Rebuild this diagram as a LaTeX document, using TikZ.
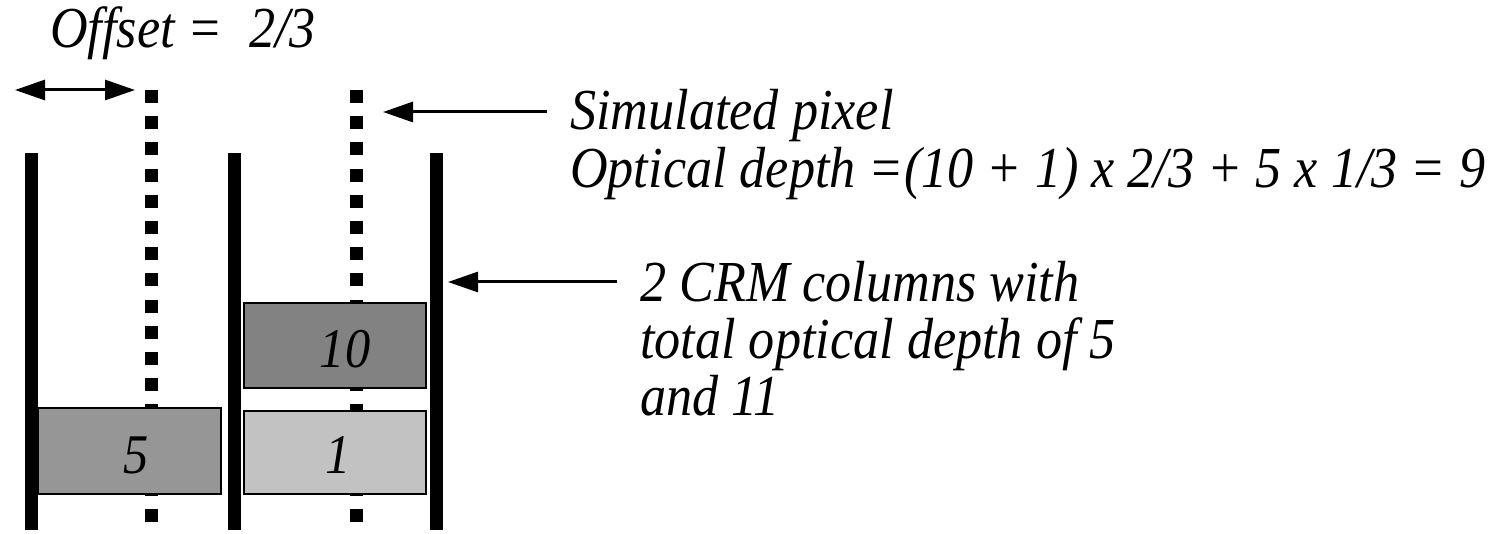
\documentclass[tikz,border=0pt]{standalone}
\usepackage{fontspec}
\setmainfont{Liberation Serif}[FakeStretch=0.9]
\usetikzlibrary{arrows.meta}
\definecolor{boxA}{HTML}{969696}
\definecolor{boxB}{HTML}{828282}
\definecolor{boxC}{HTML}{C2C2C2}
\tikzset{
  wall/.style={line width=13pt},
  pix/.style={line width=13pt, dash pattern=on 13pt off 13.2pt},
  layer/.style={draw=black, line width=2pt, inner sep=0pt, anchor=north west},
  lbl/.style={font=\fontsize{58}{58}\selectfont\itshape, inner sep=0pt, anchor=base west},
  num/.style={font=\fontsize{56}{56}\selectfont\itshape, inner sep=0pt, anchor=base},
  pointer/.style={line width=3pt, -{Triangle[length=30pt,width=20pt]}},
  both/.style={line width=3pt, {Triangle[length=30pt,width=20pt]}-{Triangle[length=30pt,width=20pt]}}
}
\begin{document}
\begin{tikzpicture}[x=1pt,y=-1pt]
\useasboundingbox (0,0) rectangle (1509,534);
% walls
\coordinate (w1t) at (31,153); \coordinate (w1b) at (31,530);
\coordinate (w2t) at (234,153); \coordinate (w2b) at (234,530);
\coordinate (w3t) at (436,153); \coordinate (w3b) at (436,530);
\draw[wall] (w1t) -- (w1b);
\draw[wall] (w2t) -- (w2b);
\draw[wall] (w3t) -- (w3b);
% simulated pixel dotted lines
\coordinate (p1t) at (151,90); \coordinate (p1b) at (151,523);
\coordinate (p2t) at (356,90); \coordinate (p2b) at (356,523);
\draw[pix] (p1t) -- (p1b);
\draw[pix] (p2t) -- (p2b);
% layers
\node[layer, fill=boxA, minimum width=183pt, minimum height=86pt] (b5) at (37,407) {};
\node[layer, fill=boxB, minimum width=182pt, minimum height=85pt] (b10) at (243,302) {};
\node[layer, fill=boxC, minimum width=182pt, minimum height=83pt] (b1) at (243,410) {};
\node[num] (n5) at (136,473) {5};
\node[num] (n10) at (345,367) {10};
\node[num] (n1) at (338,473) {1};
% offset
\node[lbl] (off) at (50,48) {Offset = \ 2/3};
\coordinate (oa) at (15,90); \coordinate (ob) at (135,90);
\draw[both] (oa) -- (ob);
% texts
\node[lbl] (sim1) at (570,130) {Simulated pixel};
\node[lbl] (sim2) at (570,188) {Optical depth =(10 + 1) x 2/3 + 5 x 1/3 = 9};
\node[lbl] (crm1) at (640,302) {2 CRM columns with};
\node[lbl] (crm2) at (640,358) {total optical depth of 5};
\node[lbl] (crm3) at (640,415) {and 11};
% arrows
\coordinate (s1) at (383,112);
\draw[pointer] (sim1.west |- s1) ++(-23,0) -- (s1);
\coordinate (c1) at (448,282);
\draw[pointer] (crm1.west |- c1) ++(-23,0) -- (c1);
\end{tikzpicture}
\end{document}
